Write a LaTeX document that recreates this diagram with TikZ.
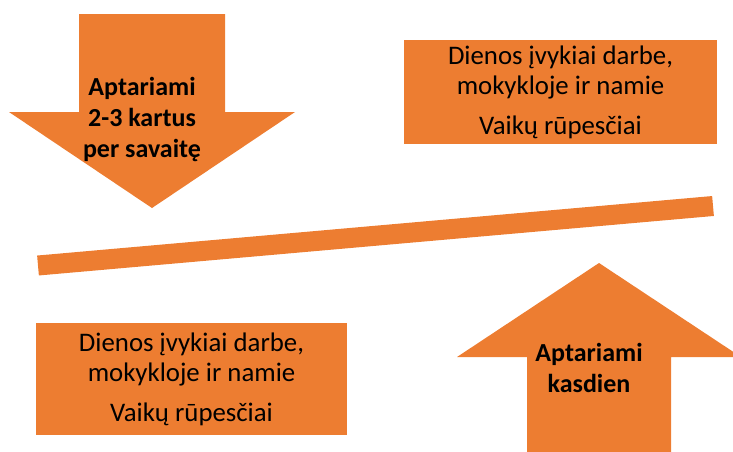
\documentclass[tikz,border=0pt]{standalone}
\usepackage{fontspec}
\setmainfont{Carlito}
\usepackage{tikz}
\usetikzlibrary{positioning,calc}
\definecolor{lbOrange}{HTML}{ED7D31}
\tikzset{
  lbshape/.style={fill=lbOrange, draw=none},
  lbbox/.style={
    lbshape, inner sep=0pt, align=center,
    font=\fontsize{26.8}{30}\selectfont
  },
  lbarrowtext/.style={align=center, font=\fontsize{26}{31}\selectfont\bfseries},
  lbbar/.style={draw=lbOrange, line width=20pt}
}

\begin{document}
\begin{tikzpicture}[x=1pt, y=-1pt]
  \useasboundingbox (0,0) rectangle (733,451);
  \clip (0,0) rectangle (733,451);
  % arrow coming down
  \fill[lbshape] (79,14) -- (225,14) -- (225,112) -- (295,112) -- (152,208)
    -- (9,112) -- (79,112) -- cycle;
  \node[lbarrowtext] (weekly) at (142,119) {Aptariami\\2-3 kartus\\per savaitę};
  % arrow going up
  \fill[lbshape] (599,263) -- (741,357) -- (671,357) -- (671,460) -- (527,460)
    -- (527,357) -- (457,357) -- cycle;
  \node[lbarrowtext] (daily) at (589,368) {Aptariami\\kasdien};
  % the beam
  \draw[lbbar] (38,265.5) -- (713,206);
  % boxes
  \node[lbbox, minimum width=313pt, minimum height=104pt] (topics1) at (560.5,92)
    {Dienos įvykiai darbe,\\mokykloje ir namie\\[10pt]Vaikų rūpesčiai};
  \node[lbbox, minimum width=311pt, minimum height=112pt] (topics2) at (191.5,379)
    {Dienos įvykiai darbe,\\mokykloje ir namie\\[10pt]Vaikų rūpesčiai};
\end{tikzpicture}
\end{document}
